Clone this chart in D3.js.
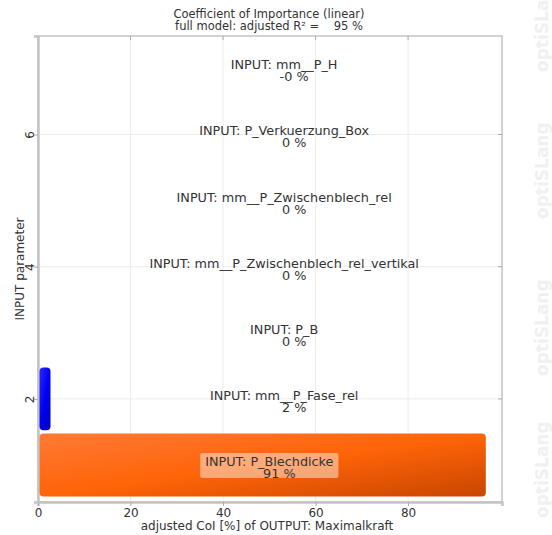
<!DOCTYPE html>
<html>
<head>
<meta charset="utf-8">
<script src="https://cdn.jsdelivr.net/npm/d3@7"></script>
<style>
  body { margin: 0; background: #fff; }
  text { font-family: "DejaVu Sans", Verdana, sans-serif; fill: #333; }
</style>
</head>
<body>
<div id="chart"></div>
<script>
// parameter names, bottom (1) to top (7)
var params = ["P_Blechdicke", "mm__P_Fase_rel", "P_B", "mm__P_Zwischenblech_rel_vertikal",
              "mm__P_Zwischenblech_rel", "P_Verkuerzung_Box", "mm__P_H"];
// bar lengths as drawn, and the printed CoI values
var barLen = [96.8, 2.7, 0, 0, 0, 0, 0];
var coiText = ["91", "2", "0", "0", "0", "0", "-0"];
var xTicks = [0, 20, 40, 60, 80];
var yTicks = [2, 4, 6];

var W = 552, H = 535;
var margin = {top: 36, right: 50, bottom: 33, left: 38},
    width = W - margin.left - margin.right,
    height = H - margin.top - margin.bottom;

var svg = d3.select("#chart").append("svg")
    .attr("width", W).attr("height", H);

var defs = svg.append("defs");
function grad(id, c0, c1, c2) {
  var gr = defs.append("linearGradient").attr("id", id)
    .attr("x1", "0%").attr("y1", "0%").attr("x2", "100%").attr("y2", "100%");
  gr.append("stop").attr("offset", "0%").attr("stop-color", c0);
  gr.append("stop").attr("offset", "50%").attr("stop-color", c1);
  gr.append("stop").attr("offset", "100%").attr("stop-color", c2);
}
grad("gOrange", "#ff7a36", "#ff6408", "#c84600");
grad("gBlue", "#2a2aff", "#0000f0", "#0000b8");

// watermark
[72, 219, 376, 518].forEach(function(yy) {
  svg.append("text")
    .attr("transform", "translate(548," + yy + ") rotate(-90)")
    .style("font-size", "17px").style("font-weight", "bold")
    .style("fill", "#f0f0f0")
    .text("optiSLang");
});

var g = svg.append("g")
  .attr("transform", "translate(" + margin.left + "," + margin.top + ")");

var x = d3.scaleLinear().domain([0, 100.3]).range([0, width]);
var y = d3.scaleLinear().domain([0.44, 7.49]).range([height, 0]);

// grid
g.selectAll(".vgrid").data(xTicks.slice(1)).enter().append("line")
  .attr("x1", d => x(d)).attr("x2", d => x(d))
  .attr("y1", 0).attr("y2", height)
  .attr("stroke", "#ececec");
g.selectAll(".hgrid").data(yTicks).enter().append("line")
  .attr("x1", 0).attr("x2", width)
  .attr("y1", d => y(d)).attr("y2", d => y(d))
  .attr("stroke", "#ececec");

// frame
g.append("rect").attr("width", width).attr("height", height)
  .attr("fill", "none").attr("stroke", "#c4c4c4").attr("stroke-width", 1.5);

// small ticks on top / right border
g.selectAll(".tt").data(xTicks.slice(1)).enter().append("line")
  .attr("x1", d => x(d)).attr("x2", d => x(d))
  .attr("y1", 0).attr("y2", 4).attr("stroke", "#aaa");
g.selectAll(".rt").data(yTicks).enter().append("line")
  .attr("x1", width).attr("x2", width - 4)
  .attr("y1", d => y(d)).attr("y2", d => y(d)).attr("stroke", "#aaa");

// axes
var xAxis = g.append("g").attr("transform", "translate(0," + height + ")")
  .call(d3.axisBottom(x).tickValues(xTicks).tickSize(4).tickPadding(2));
var yAxis = g.append("g")
  .call(d3.axisLeft(y).tickValues(yTicks).tickFormat(d3.format("d")).tickSize(4));
[xAxis, yAxis].forEach(function(a) {
  a.select(".domain").attr("stroke", "#c4c4c4").attr("stroke-width", 2.5);
  a.selectAll(".tick line").attr("stroke", "#aaa");
  a.selectAll("text").style("font-size", "12px").attr("fill", "#444")
    .style("font-family", "DejaVu Sans, sans-serif");
});
yAxis.selectAll(".tick text")
  .attr("x", null).attr("dy", null)
  .attr("text-anchor", "middle")
  .attr("transform", "translate(-4,0) rotate(-90)");

// bars
g.selectAll(".bar").data(barLen.map((v, i) => ({v: v, i: i})).filter(d => d.v > 0))
  .enter().append("rect")
  .attr("x", 1.5)
  .attr("y", d => y(d.i + 1 + 0.475))
  .attr("width", d => x(d.v) - 1.5)
  .attr("height", y(0) - y(0.95))
  .attr("rx", 4).attr("ry", 4)
  .attr("fill", d => d.i === 0 ? "url(#gOrange)" : "url(#gBlue)");

// labels
params.forEach(function(p, i) {
  var big = barLen[i] > 50;
  var cx = big ? x(50) : x(53.2);
  var cy = y(i + 1);
  var box = big ? g.append("rect") : null;
  var t1 = g.append("text").attr("x", cx).attr("y", cy + 1)
    .attr("text-anchor", "middle").style("font-size", "12.8px").attr("fill", "#222")
    .text("INPUT: " + p);
  g.append("text").attr("x", cx + 10).attr("y", cy + 13)
    .attr("text-anchor", "middle").style("font-size", "12.8px").attr("fill", "#222")
    .text(coiText[i] + " %");
  if (box) {
    var bw = t1.node().getComputedTextLength() + 10;
    box.attr("x", cx - bw / 2).attr("y", cy - 12)
      .attr("width", bw).attr("height", 25).attr("rx", 2)
      .attr("fill", "#fff").attr("fill-opacity", 0.45);
  }
});

// titles
svg.append("text").attr("x", 269).attr("y", 18).attr("text-anchor", "middle")
  .style("font-size", "11.5px").text("Coefficient of Importance (linear)");
svg.append("text").attr("x", 269).attr("y", 30).attr("text-anchor", "middle")
  .attr("xml:space", "preserve")
  .style("font-size", "11.5px").text("full model: adjusted R\u00b2 =    95 %");
svg.append("text").attr("x", 267).attr("y", 530).attr("text-anchor", "middle")
  .style("font-size", "12px").text("adjusted CoI [%] of OUTPUT: Maximalkraft");
svg.append("text")
  .attr("transform", "translate(24," + (margin.top + height / 2) + ") rotate(-90)")
  .attr("text-anchor", "middle")
  .style("font-size", "12px").text("INPUT parameter");
</script>
</body>
</html>
